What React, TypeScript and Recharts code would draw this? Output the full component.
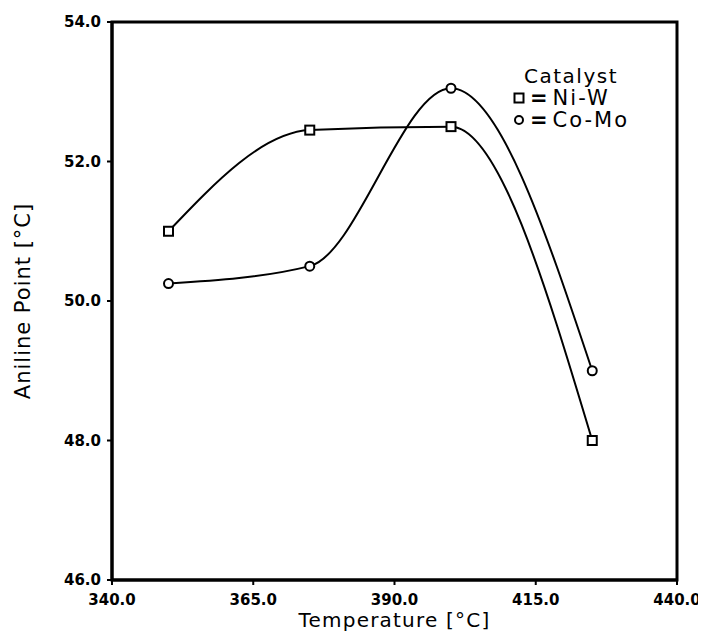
import React from 'react';
import { LineChart, Line, XAxis, YAxis, ReferenceArea, Legend } from 'recharts';

const temperatures = [350, 375, 400, 425];
const niW = [51.0, 52.45, 52.5, 48.0];
const coMo = [50.25, 50.5, 53.05, 49.0];
const xTicks = [340, 365, 390, 415, 440];
const yTicks = [46, 48, 50, 52, 54];
const seriesNames = ['Ni-W', 'Co-Mo'];

const rows = temperatures.map((t, i) => ({ t, niW: niW[i], coMo: coMo[i] }));

const FONT = '"DejaVu Sans", sans-serif';

const SquareDot = (props: any) => {
  const { cx, cy, index } = props;
  if (cx == null || cy == null) return <g key={`s${index}`} />;
  return (
    <rect key={`s${index}`} x={cx - 4.5} y={cy - 4.5} width={9} height={9} fill="#fff" stroke="#000" strokeWidth={2} />
  );
};

const CircleDot = (props: any) => {
  const { cx, cy, index } = props;
  if (cx == null || cy == null) return <g key={`c${index}`} />;
  return <circle key={`c${index}`} cx={cx} cy={cy} r={4.5} fill="#fff" stroke="#000" strokeWidth={2} />;
};

const LegendContent = () => (
  <div style={{ fontFamily: FONT, color: '#000', lineHeight: '22px' }}>
    <div style={{ fontSize: 20, letterSpacing: 1.5, paddingLeft: 12 }}>Catalyst</div>
    {seriesNames.map((name, i) => (
      <div key={name} style={{ display: 'flex', alignItems: 'center', height: 22 }}>
        <svg width={14} height={14} style={{ marginRight: 4 }}>
          {i === 0 ? (
            <rect x={2.5} y={2.5} width={9} height={9} fill="#fff" stroke="#000" strokeWidth={2} />
          ) : (
            <circle cx={7} cy={7} r={4} fill="#fff" stroke="#000" strokeWidth={2} />
          )}
        </svg>
        <span style={{ fontSize: 21, fontWeight: 'bold', marginRight: 5 }}>=</span>
        <span style={{ fontSize: 21, letterSpacing: 2 }}>{name}</span>
      </div>
    ))}
  </div>
);

export default function App() {
  return (
    <div style={{ width: 698, height: 628, fontFamily: FONT }}>
      <LineChart width={698} height={628} data={rows} margin={{ top: 14, right: 29, bottom: 0, left: 0 }}>
        <XAxis
          dataKey="t"
          type="number"
          domain={[340, 440]}
          ticks={xTicks}
          tickFormatter={(v: number) => v.toFixed(1)}
          tick={{ fontSize: 15, fontWeight: 'bold', fill: '#000', fontFamily: FONT }}
          tickLine={{ stroke: '#000', strokeWidth: 2 }}
          axisLine={{ stroke: '#000', strokeWidth: 3 }}
          tickSize={5}
          tickMargin={9}
          height={56}
          label={{
            value: 'Temperature [°C]',
            position: 'insideBottom',
            offset: 9,
            style: { fontSize: 20, letterSpacing: 1.2, fill: '#000', fontFamily: FONT },
          }}
        />
        <YAxis
          type="number"
          domain={[46, 54]}
          ticks={yTicks}
          tickFormatter={(v: number) => v.toFixed(1)}
          tick={{ fontSize: 15, fontWeight: 'bold', fill: '#000', fontFamily: FONT }}
          tickLine={{ stroke: '#000', strokeWidth: 2 }}
          axisLine={{ stroke: '#000', strokeWidth: 3 }}
          tickSize={5}
          tickMargin={6}
          width={104}
          label={{
            value: 'Aniline Point [°C]',
            angle: -90,
            position: 'insideLeft',
            offset: 15,
            style: { textAnchor: 'middle', fontSize: 21, letterSpacing: 1, fill: '#000', fontFamily: FONT },
          }}
        />
        <ReferenceArea x1={340} x2={440} y1={46} y2={54} fill="none" fillOpacity={0} stroke="#000" strokeWidth={3} />
        <Line type="monotone" dataKey="niW" name="Ni-W" stroke="#000" strokeWidth={2} dot={SquareDot} isAnimationActive={false} />
        <Line type="monotone" dataKey="coMo" name="Co-Mo" stroke="#000" strokeWidth={2} dot={CircleDot} isAnimationActive={false} />
        <Legend
          layout="vertical"
          align="center"
          verticalAlign="middle"
          content={LegendContent}
          wrapperStyle={{ left: 504, top: 57, width: 150, height: 80 }}
        />
      </LineChart>
    </div>
  );
}
